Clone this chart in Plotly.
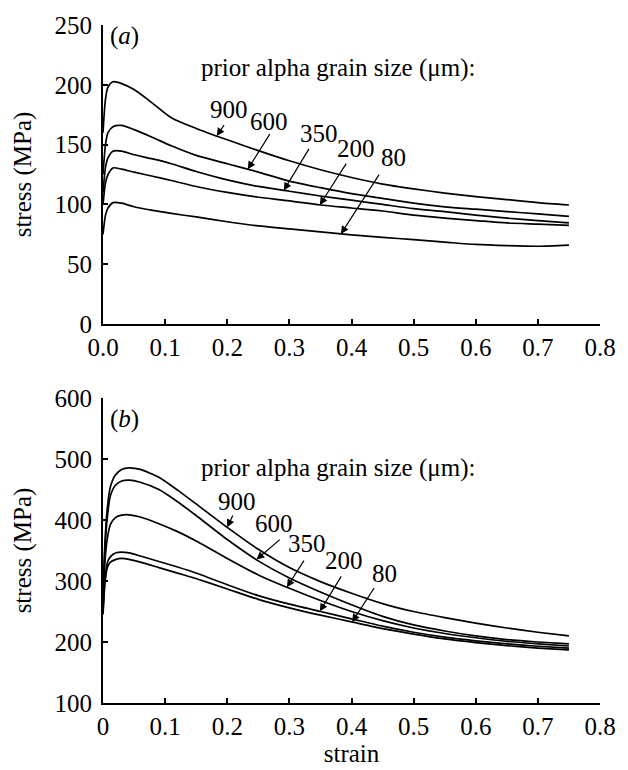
import numpy as np
import plotly.graph_objects as go

FONT = "Liberation Serif, Times New Roman, serif"

# ---------------- panel (a): flow curves ----------------
strain_a = [0.0, 0.004, 0.008, 0.016, 0.03, 0.05, 0.08, 0.11, 0.15, 0.2, 0.25,
            0.3, 0.35, 0.4, 0.45, 0.5, 0.55, 0.6, 0.65, 0.7, 0.75]
a_900 = [160, 188, 198, 202.5, 201, 196, 184.5, 172.5, 163.5, 154, 145,
         136.5, 129, 122.5, 117, 113, 109.5, 106.5, 104, 101.5, 99.5]
a_600 = [125, 150, 160, 165, 166, 162.5, 156, 149, 141, 134, 127,
         119.5, 114, 109, 105, 101, 98, 96, 94, 92, 90]
a_350 = [110, 131, 139, 144.5, 144.5, 141.5, 138, 134, 127.5, 120.5, 115,
         111, 107, 103.5, 100, 96.5, 94, 91, 88.5, 86.5, 84.5]
a_200 = [100, 118, 125, 130.5, 129.5, 127, 123.5, 120, 115, 110, 106,
         103, 99.5, 97, 94.5, 91, 88.5, 86.5, 84.5, 83.5, 82.5]
a_80 = [75, 91, 97, 101.5, 101, 98, 95, 92.5, 89.5, 85.5, 82,
        79.5, 77, 74.5, 72.5, 70.5, 68.5, 66.5, 65.5, 65, 66]

# ---------------- panel (b): flow curves ----------------
strain_b = [0.0, 0.003, 0.007, 0.012, 0.02, 0.03, 0.042, 0.06, 0.09, 0.12, 0.153,
            0.2, 0.25, 0.3, 0.35, 0.4, 0.45, 0.5, 0.55, 0.6, 0.65, 0.7, 0.75]
b_900 = [270, 360, 420, 455, 474, 483, 485.5, 483, 470, 449, 424,
         388, 352, 322, 299, 280, 263, 250, 240, 231, 223, 216, 210]
b_600 = [260, 350, 405, 440, 457, 464, 465.5, 462, 450, 430, 405,
         368, 333, 305, 282, 261, 242, 228, 218, 210, 204, 200, 197]
b_350 = [255, 330, 370, 393, 404, 408, 408.5, 405, 394, 381, 364,
         337, 310, 288, 268, 250, 235, 223, 214, 207, 201, 197, 193.5]
b_200 = [250, 300, 330, 340, 346, 347.5, 346, 341, 332, 323, 312,
         294, 276, 262, 250, 238, 226, 216, 208, 202, 197, 193, 190]
b_80 = [245, 295, 322, 331, 335, 337, 335.5, 331, 322, 313, 303,
        287, 270, 256, 244, 233, 222, 213, 205, 199, 194, 190, 187]

grain_labels = ["900", "600", "350", "200", "80"]

# arrow tips (strain on each curve), arrow tails and label centres (data coords)
tips_a = [0.183, 0.233, 0.291, 0.349, 0.383]
tails_a = [(0.1965, 167.5), (0.270, 160), (0.333, 147.7), (0.393, 135.3), (0.446, 126.2)]
labels_a = [(0.203, 179), (0.267, 169), (0.347, 159), (0.407, 147), (0.467, 139.4)]

tips_b = [0.200, 0.247, 0.296, 0.349, 0.401]
tails_b = [(0.210, 410), (0.287, 370), (0.325, 336), (0.385, 310), (0.438, 291)]
labels_b = [(0.215, 430), (0.275, 394), (0.3285, 362), (0.388, 333), (0.4527, 313)]

x_ticks = [0, 0.1, 0.2, 0.3, 0.4, 0.5, 0.6, 0.7, 0.8]
x_text_a = ["0.0", "0.1", "0.2", "0.3", "0.4", "0.5", "0.6", "0.7", "0.8"]
x_text_b = ["0", "0.1", "0.2", "0.3", "0.4", "0.5", "0.6", "0.7", "0.8"]
y_ticks_a = [0, 50, 100, 150, 200, 250]
y_ticks_b = [100, 200, 300, 400, 500, 600]

series_a = [a_900, a_600, a_350, a_200, a_80]
series_b = [b_900, b_600, b_350, b_200, b_80]

fig = go.Figure()
for ys in series_a:
    fig.add_trace(go.Scatter(x=strain_a, y=ys, mode="lines", xaxis="x", yaxis="y",
                             line=dict(color="black", width=1.7, shape="spline", smoothing=0.7),
                             showlegend=False, hoverinfo="skip"))
for ys in series_b:
    fig.add_trace(go.Scatter(x=strain_b, y=ys, mode="lines", xaxis="x2", yaxis="y2",
                             line=dict(color="black", width=1.7, shape="spline", smoothing=0.6),
                             showlegend=False, hoverinfo="skip"))

txt = dict(family=FONT, size=25, color="black")
ann = []


def panel_annotations(xr, yr, strains, series, tips, tails, labels, tag, head_y):
    ann.append(dict(xref=xr, yref=yr, x=0.0346, y=head_y[0], text=f"(<i>{tag}</i>)",
                    showarrow=False, font=txt))
    ann.append(dict(xref=xr, yref=yr, x=0.155, y=head_y[1], xanchor="left",
                    text="prior alpha grain size (μm):", showarrow=False, font=txt))
    for lab, ys, tip, tail, pos in zip(grain_labels, series, tips, tails, labels):
        tip_y = float(np.interp(tip, strains, ys))
        ann.append(dict(xref=xr, yref=yr, x=tip, y=tip_y, axref=xr, ayref=yr,
                        ax=tail[0], ay=tail[1], text="", showarrow=True,
                        arrowhead=2, arrowsize=1.3, arrowwidth=1.2, arrowcolor="black",
                        standoff=0, startstandoff=0))
        ann.append(dict(xref=xr, yref=yr, x=pos[0], y=pos[1], text=lab,
                        showarrow=False, font=txt))


panel_annotations("x", "y", strain_a, series_a, tips_a, tails_a, labels_a, "a", (241, 213.7))
panel_annotations("x2", "y2", strain_b, series_b, tips_b, tails_b, labels_b, "b", (566, 485.4))

axis_common = dict(showline=True, linecolor="black", linewidth=2, ticks="inside",
                   ticklen=5, tickwidth=1.5, tickcolor="black", showgrid=False,
                   zeroline=False, tickfont=txt, mirror=False)

fig.update_layout(
    width=628, height=770,
    margin=dict(l=103, r=16, t=23, b=60),
    paper_bgcolor="white", plot_bgcolor="white",
    font=txt,
    showlegend=False,
    xaxis=dict(axis_common, domain=[0, 1], range=[0, 0.8], tickvals=x_ticks,
               ticktext=x_text_a, anchor="y"),
    yaxis=dict(axis_common, domain=[0.559, 1], range=[0, 250], tickvals=y_ticks_a,
               anchor="x", ticklabelstandoff=4,
               title=dict(text="stress (MPa)", font=txt, standoff=16)),
    xaxis2=dict(axis_common, domain=[0, 1], range=[0, 0.8], tickvals=x_ticks,
                ticktext=x_text_b, anchor="y2",
                title=dict(text="strain", font=txt, standoff=0)),
    yaxis2=dict(axis_common, domain=[0, 0.4498], range=[100, 600], tickvals=y_ticks_b,
                anchor="x2", ticklabelstandoff=4,
                title=dict(text="stress (MPa)", font=txt, standoff=16)),
    annotations=ann,
)

fig.write_html("out.html")
